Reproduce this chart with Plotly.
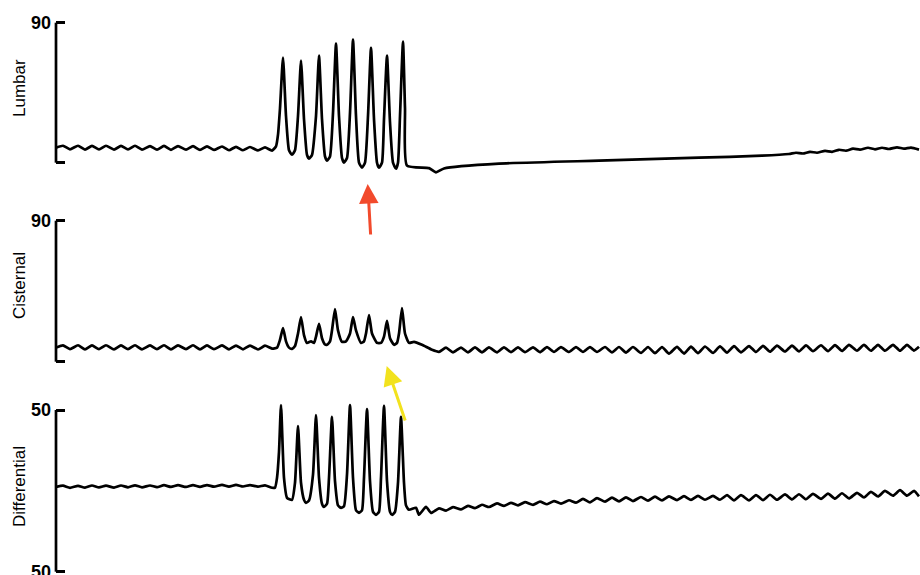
import plotly.graph_objects as go

# ---------------- data (time in chart units, pressures in panel units) ----------------
rest_time = [0, 7, 14, 22, 29, 36, 43, 50, 58, 65, 72, 79, 86, 94, 101, 108, 115, 122, 130, 137,
             144, 151, 158, 166, 173, 180, 187, 194, 202, 209, 216]
recovery_time = [383, 390, 397, 405, 412, 419, 426, 433, 441, 448, 455, 462, 469, 477, 484, 491, 498,
                 505, 513, 520, 527, 534, 541, 549, 556, 563, 570, 577, 585, 592, 599, 606, 613, 621,
                 628, 635, 642, 649, 657, 664, 671, 678, 685, 693, 700, 707, 714, 721, 729, 736, 743,
                 750, 757, 765, 772, 779, 786, 793, 801, 808, 815, 822, 829, 837, 844, 851, 858, 863]

# Lumbar
lumbar_rest = [9.6, 10.9, 8.6, 10.9, 8.4, 10.8, 8.5, 10.9, 8.4, 10.8, 8.5, 10.9, 8.4, 10.7, 8.4, 10.8,
               8.3, 10.7, 8.4, 10.6, 8.2, 10.5, 8.2, 10.4, 8.0, 10.2, 8.0, 10.1, 7.9, 9.8, 7.8]
lumbar_burst_time = [220, 222, 224, 227, 230, 233, 236, 239, 242, 245, 248, 251, 253, 256, 260, 263,
                     266, 269, 271, 274, 277, 280, 283, 286, 288, 291, 294, 297, 300, 303, 306, 309,
                     312, 315, 318, 321, 323, 326, 328, 331, 334, 337, 340, 342, 344, 347, 349, 351,
                     373, 380, 388, 443, 543, 643, 706]
lumbar_burst = [10.5, 18, 35, 67.5, 30, 8, 5.1, 8, 30, 65.6, 28, 5, 2.6, 5, 30, 68.8,
                28, 4, 1.3, 4, 32, 76.5, 30, 3, 0.0, 3, 32, 79.1, 30, 0, -3.2, 0,
                30, 73.9, 28, 0, -3.2, 0, 28, 68.8, 26, 0, -3.9, 0, 30, 77.8, 35, -1.9,
                -3.5, -6.2, -3.7, -0.6, 1.3, 3.2, 4.5]
lumbar_tail_time = [733, 740, 747, 754, 761, 769, 776, 783, 790, 797, 804, 812, 819, 826, 833, 841,
                    848, 855, 863]
lumbar_tail = [5.6, 6.4, 5.9, 7.0, 6.4, 7.6, 7.0, 8.3, 7.7, 9.0, 8.4, 9.6, 8.6, 9.6, 8.8, 9.9, 9.0,
               9.7, 8.4]

# Cisternal
cisternal_rest = [9.0, 10.4, 8.0, 10.5, 7.9, 10.4, 8.0, 10.5, 7.9, 10.4, 8.0, 10.5, 7.9, 10.4, 8.0,
                  10.5, 7.9, 10.4, 8.0, 10.5, 7.9, 10.4, 8.0, 10.4, 7.9, 10.3, 7.9, 10.3, 7.8, 10.2, 8.4]
cisternal_burst_time = [221, 224, 227, 230, 233, 236, 239, 242, 245, 248, 251, 255, 258, 260, 263,
                        266, 269, 271, 274, 276, 279, 282, 286, 290, 294, 297, 300, 305, 308, 310,
                        313, 316, 321, 325, 328, 331, 334, 338, 341, 343, 346, 349, 353, 358, 366, 376]
cisternal_burst = [9.0, 14, 21.5, 13, 9, 8.2, 10, 18, 28.5, 17, 12.0, 13.0, 12, 16, 24.1,
                   15, 11, 10.8, 13, 20, 33.6, 20, 12.7, 13, 18, 28.5, 20, 12.0, 13, 18,
                   29.8, 18, 12.0, 12, 16, 26.0, 15, 10.8, 12, 18, 34.2, 18, 12.0, 12.7, 10.8, 7.6]
cisternal_recovery = [6.3, 9.0, 6.0, 9.0, 6.0, 9.1, 6.0, 9.1, 6.0, 9.2, 6.1, 9.2, 6.1, 9.2, 6.1, 9.3,
                      6.2, 9.3, 6.2, 9.3, 6.2, 9.3, 6.2, 9.4, 6.0, 9.4, 5.8, 9.4, 5.6, 9.4, 5.4, 9.4,
                      5.2, 9.5, 5.2, 9.6, 5.4, 9.7, 5.6, 9.8, 5.8, 9.9, 6.0, 10.0, 6.2, 10.1, 6.4,
                      10.2, 6.5, 10.3, 6.6, 10.4, 6.7, 10.5, 6.8, 10.6, 6.9, 10.7, 7.0, 10.7, 7.0,
                      10.8, 7.0, 10.8, 7.0, 10.8, 7.1, 9.5]

# Differential
differential_rest = [2.5, 3.2, 1.9, 3.1, 2.0, 3.3, 2.1, 3.2, 2.0, 3.3, 2.2, 3.4, 2.2, 3.3, 2.3, 3.5,
                     2.4, 3.5, 2.4, 3.6, 2.5, 3.6, 2.6, 3.7, 2.6, 3.7, 2.7, 3.6, 2.6, 3.4, 1.9]
differential_burst_time = [219, 221, 223, 225, 228, 231, 236, 239, 242, 245, 248, 250, 253, 257, 260,
                           263, 266, 268, 271, 273, 276, 279, 282, 285, 288, 291, 294, 297, 300, 303,
                           306, 308, 311, 314, 317, 320, 323, 325, 328, 331, 334, 336, 339, 342, 345,
                           348, 350, 353, 360, 363, 370, 375]
differential_burst = [2.0, 8, 24.1, 53.1, 8, -4.3, -5.6, 5, 40.1, 5, -5.5, -7.4, -6, 10, 46.9,
                      8, -8, -9.9, -8, 8, 45.7, 6, -9, -10.5, -9.5, 10, 53.1, 8, -12, -13.6,
                      -12, 8, 50.6, 6, -13, -14.8, -13, 8, 52.5, 6, -13, -14.8, -13, 5, 45.7,
                      5, -9, -11.7, -10.5, -14.8, -9.9, -13.6]
differential_recovery = [-10.8, -12.2, -10.1, -11.5, -9.3, -10.7, -8.6, -10.0, -7.8, -9.3, -7.4, -9.0,
                         -7.0, -8.7, -6.7, -8.3, -6.3, -7.9, -5.8, -7.3, -5.0, -7.1, -4.5, -6.7, -4.2,
                         -6.5, -4.0, -6.3, -3.8, -6.1, -3.6, -5.9, -3.4, -5.7, -3.3, -5.6, -3.1, -5.5,
                         -3.1, -5.5, -2.7, -5.9, -2.7, -5.9, -2.6, -5.7, -2.4, -5.5, -2.2, -5.3, -2.1,
                         -5.2, -1.9, -5.0, -1.7, -4.8, -1.5, -4.7, -1.2, -4.1, -0.6, -3.5, 0.0, -3.0,
                         0.4, -3.0, 0.0, -3.4]

panel_titles = ["Lumbar", "Cisternal", "Differential"]
lumbar_ticks, lumbar_ticktext = [0, 90], ["", "90"]
cisternal_ticks, cisternal_ticktext = [0, 90], ["", "90"]
differential_ticks, differential_ticktext = [-50, 50], ["50", "50"]

# ---------------- figure ----------------
W, H = 920, 575
fig = go.Figure()
line_style = dict(color="black", width=2.7, shape="spline", smoothing=0.5)

fig.add_trace(go.Scatter(
    x=rest_time + lumbar_burst_time + lumbar_tail_time,
    y=lumbar_rest + lumbar_burst + lumbar_tail,
    mode="lines", line=line_style, xaxis="x", yaxis="y", showlegend=False))
fig.add_trace(go.Scatter(
    x=rest_time + cisternal_burst_time + recovery_time,
    y=cisternal_rest + cisternal_burst + cisternal_recovery,
    mode="lines", line=line_style, xaxis="x2", yaxis="y2", showlegend=False))
fig.add_trace(go.Scatter(
    x=rest_time + differential_burst_time + recovery_time,
    y=differential_rest + differential_burst + differential_recovery,
    mode="lines", line=line_style, xaxis="x3", yaxis="y3", showlegend=False))

xcommon = dict(range=[0, 864], visible=False, domain=[0, 1], fixedrange=True, automargin=False)
tickfont = dict(family="Liberation Sans, Arial, sans-serif", size=18, color="black", weight="bold")
ycommon = dict(showgrid=False, zeroline=False, showline=False, ticks="inside", ticklen=9,
               tickwidth=2.6, tickcolor="black", tickfont=tickfont, ticklabelstandoff=4,
               ticklabeloverflow="allow", automargin=False, fixedrange=True)

fig.update_layout(
    width=W, height=H,
    margin=dict(l=56, r=0, t=0, b=0, autoexpand=False),
    paper_bgcolor="white", plot_bgcolor="white",
    xaxis=dict(**xcommon, anchor="y"),
    xaxis2=dict(**xcommon, anchor="y2"),
    xaxis3=dict(**xcommon, anchor="y3"),
    yaxis=dict(**ycommon, anchor="x", domain=[0.67826, 0.98261], range=[-14.34, 98.16],
               tickvals=lumbar_ticks, ticktext=lumbar_ticktext),
    yaxis2=dict(**ycommon, anchor="x2", domain=[0.33043, 0.65217], range=[-14.87, 103.21],
                tickvals=cisternal_ticks, ticktext=cisternal_ticktext),
    yaxis3=dict(**ycommon, anchor="x3", domain=[0.0, 0.31826], range=[-52.04, 61.13],
                tickvals=differential_ticks, ticktext=differential_ticktext),
)

# bracket-style axis lines
for yref, lo, hi in [("y", 0, 90), ("y2", 0, 90), ("y3", -50, 50)]:
    fig.add_shape(type="line", xref="paper", yref=yref, x0=0, x1=0, y0=lo, y1=hi,
                  line=dict(color="black", width=2.7))

# rotated panel titles
title_font = dict(family="Liberation Sans, Arial, sans-serif", size=17, color="black")
for title, ypix in zip(panel_titles, [88, 286, 487]):
    fig.add_annotation(text=title, xref="paper", yref="paper", x=0, y=1 - ypix / H,
                       xshift=-37, textangle=-90, showarrow=False, font=title_font,
                       xanchor="center", yanchor="middle")

# arrows
fig.add_annotation(xref="paper", yref="paper", x=(367.7 - 56) / 864, y=1 - 184 / H,
                   ax=3, ay=52, text="", showarrow=True, arrowhead=2, arrowsize=1.3,
                   arrowwidth=3, arrowcolor="#f24a2c", standoff=0)
fig.add_annotation(xref="paper", yref="paper", x=(386.7 - 56) / 864, y=1 - 366 / H,
                   ax=19, ay=56, text="", showarrow=True, arrowhead=2, arrowsize=1.3,
                   arrowwidth=3, arrowcolor="#f2e21e", standoff=0)

page_fix = """
document.documentElement.style.margin='0px';
document.documentElement.style.overflow='hidden';
document.body.style.margin='0px';
document.body.style.overflow='hidden';
var gd = document.getElementsByClassName('plotly-graph-div')[0];
gd.style.overflow='hidden';
"""
fig.write_html("out.html", config=dict(displayModeBar=False), post_script=page_fix)
